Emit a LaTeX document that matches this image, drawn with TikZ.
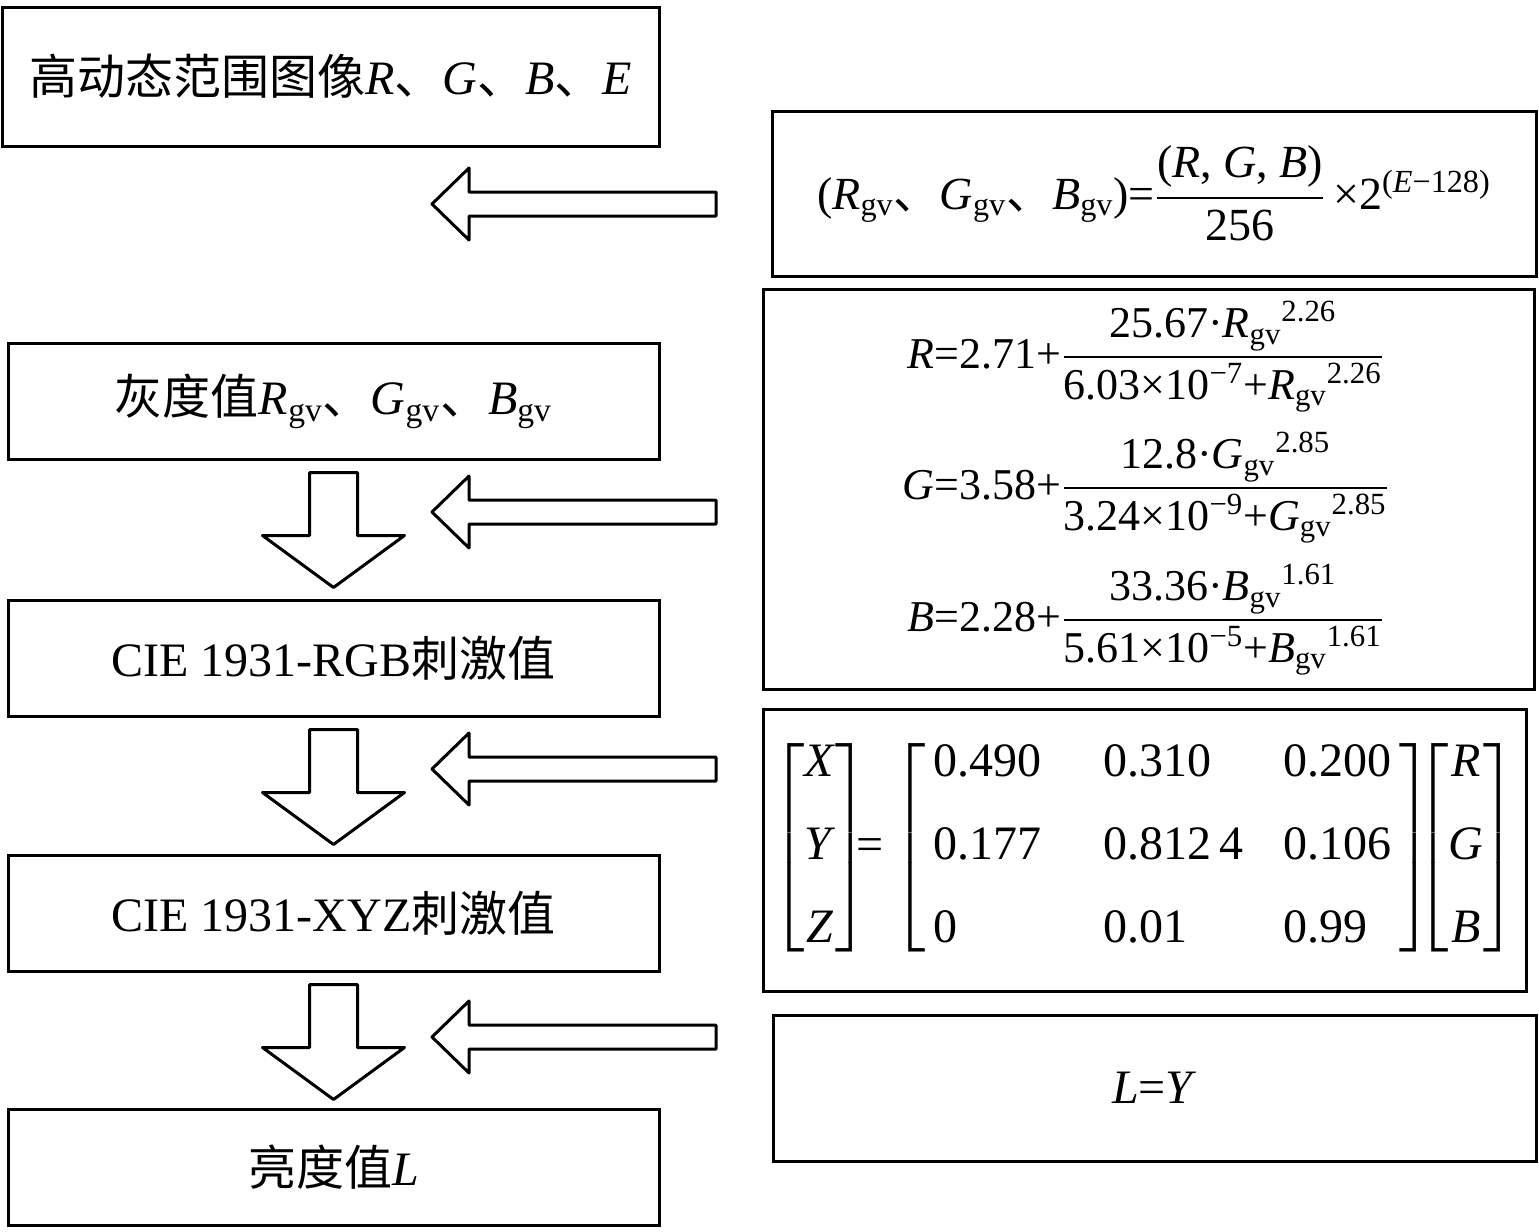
\RequirePackage{fix-cm}
\documentclass[tikz,border=0pt]{standalone}
\usepackage{fontspec}
\setmainfont{Liberation Serif}
\newfontfamily\cjk{Noto Sans CJK SC}
\usepackage{amsmath}
\usepackage{tikz}

\newcommand{\gv}[1]{\textit{#1}\textsubscript{gv}}
\newcommand{\dun}{{\cjk 、}}

\begin{document}
\begin{tikzpicture}[x=0.5pt,y=-0.5pt]
\useasboundingbox (0,0) rectangle (1539,1232);
\tikzstyle{cadre}=[draw,line width=1.5pt,inner sep=0pt,font=\fontsize{24}{28.8}\selectfont]
\tikzstyle{etape}=[cadre,minimum width=325.5pt,minimum height=58pt]
\tikzstyle{formule}=[inner sep=0pt,font=\fontsize{22}{26.4}\selectfont]
\tikzset{
	versbas/.pic={\draw[line width=1.5pt,line join=round] (-24,0)--(24,0)--(24,63)--(71,63)--(0,115)--(-71,63)--(-24,63)--cycle;},
	versgauche/.pic={\draw[line width=1.5pt,line join=round] (0,-12)--(-247,-12)--(-247,-36)--(-284,0)--(-247,36)--(-247,12)--(0,12)--cycle;}
}
	\node[cadre,minimum width=328.5pt,minimum height=69.5pt] (hdr) at (330.5,76.5) {{\cjk 高动态范围图像}\textit{R}\dun\textit{G}\dun\textit{B}\dun\textit{E}};
	\node[etape] (gris) at (333.5,401) {{\cjk 灰度值}\gv{R}\dun\gv{G}\dun\gv{B}};
	\node[etape] (rgb) at (333.5,658) {CIE 1931-RGB{\cjk 刺激值}};
	\node[etape] (xyz) at (333.5,913) {CIE 1931-XYZ{\cjk 刺激值}};
	\node[etape] (lum) at (333.5,1167) {{\cjk 亮度值}\textit{L}};
\par
\node[cadre,font=\fontsize{23}{27.6}\selectfont,minimum width=382pt,minimum height=82.5pt] (f1) at (1154,193.5)
	{(\gv{R}\dun\gv{G}\dun\gv{B})=$\dfrac{\mbox{(\textit{R}, \textit{G}, \textit{B})}}{\mbox{256}}$\,×2\textsuperscript{(\textit{E}−128)}};
	\node[cadre,minimum width=385.5pt,minimum height=200pt] (f2) at (1148.5,489) {};
	\node[formule] (fr) at (1146,357) {\textit{R}=2.71+$\dfrac{\mbox{25.67·\gv{R}\textsuperscript{2.26}}}{\mbox{6.03×10\textsuperscript{−7}+\gv{R}\textsuperscript{2.26}}}$};
	\node[formule] (fg) at (1146,488) {\textit{G}=3.58+$\dfrac{\mbox{12.8·\gv{G}\textsuperscript{2.85}}}{\mbox{3.24×10\textsuperscript{−9}+\gv{G}\textsuperscript{2.85}}}$};
	\node[formule] (fb) at (1146,620) {\textit{B}=2.28+$\dfrac{\mbox{33.36·\gv{B}\textsuperscript{1.61}}}{\mbox{5.61×10\textsuperscript{−5}+\gv{B}\textsuperscript{1.61}}}$};
	\node[cadre,minimum width=381.5pt,minimum height=141pt] (f3) at (1144.5,850) {};
	\node[inner sep=0pt,font=\fontsize{24}{28.8}\selectfont] (fm) at (1144,848)
	{\setlength{\tabcolsep}{0pt}\delimiterfactor=850\delimitershortfall=14pt%
	$\left[\begin{tabular}{@{}c@{}}\textit{X}\\[12.7pt]\textit{Y}\\[12.7pt]\textit{Z}\end{tabular}\right]$\hspace{-6pt}=\,$\left[\,\begin{tabular}{@{}p{85pt}p{90pt}l@{}}0.490&0.310&0.200\\[12.7pt]0.177&0.812\,4&0.106\\[12.7pt]0&0.01&0.99\end{tabular}\,\right]\hspace{-12.5pt}\left[\begin{tabular}{@{}c@{}}\textit{R}\\[12.7pt]\textit{G}\\[12.7pt]\textit{B}\end{tabular}\right]$};
	\node[cadre,minimum width=381.5pt,minimum height=73pt] (f4) at (1154.5,1088) {\textit{L}=\textit{Y}};
\par
\coordinate (q1) at (716,204);
	\coordinate (q2) at (716,512);
	\coordinate (q3) at (716,769);
	\coordinate (q4) at (716,1037);
	\pic at (q1) {versgauche};
	\pic at (q2) {versgauche};
	\pic at (q3) {versgauche};
	\pic at (q4) {versgauche};
	\pic at ([yshift=-6pt]gris.south) {versbas};
	\pic at ([yshift=-6pt]rgb.south) {versbas};
	\pic at ([yshift=-6pt]xyz.south) {versbas};
\end{tikzpicture}
\end{document}
